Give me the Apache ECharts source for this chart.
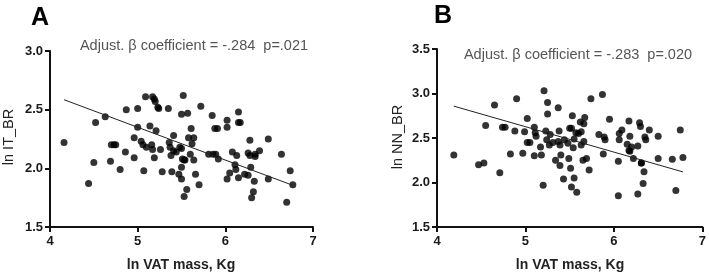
<!DOCTYPE html>
<html>
<head>
<meta charset="utf-8">
<script src="https://cdn.jsdelivr.net/npm/echarts@6/dist/echarts.min.js"></script>
<style>html,body{margin:0;padding:0;background:#fff}#c{width:709px;height:275px}</style>
</head>
<body>
<div id="c"></div>
<script>
// Panel A: ln VAT mass vs ln IT_BR
var xA = [4.16,4.44,4.50,4.52,4.63,4.69,4.70,4.73,4.75,4.80,4.86,4.87,4.96,4.96,5.00,5.00,5.04,5.06,5.07,5.09,5.10,5.14,5.16,5.17,5.19,5.20,5.17,5.19,5.21,5.23,5.24,5.26,5.28,5.35,5.36,5.37,5.38,5.39,5.41,5.41,5.44,5.47,5.48,5.50,5.50,5.50,5.50,5.52,5.51,5.53,5.53,5.54,5.56,5.57,5.58,5.60,5.61,5.62,5.64,5.64,5.66,5.70,5.72,5.81,5.85,5.86,5.89,5.88,5.91,5.92,6.02,6.02,6.02,6.05,6.08,6.11,6.12,6.13,6.15,6.15,6.17,6.15,6.22,6.26,6.28,6.26,6.28,6.29,6.30,6.32,6.33,6.34,6.34,6.39,6.49,6.49,6.64,6.70,6.74,6.77];
var yA = [2.22,1.87,2.05,2.39,2.44,2.06,2.20,2.20,2.20,1.99,2.14,2.50,2.09,2.26,2.51,2.35,2.23,2.20,1.98,2.61,2.18,2.36,2.20,2.61,2.59,2.57,2.16,2.09,2.32,2.52,2.51,2.16,1.97,2.51,2.22,2.18,2.11,1.97,2.28,2.15,2.14,1.95,2.18,2.17,2.01,2.46,1.91,2.62,2.08,2.07,1.76,2.07,1.82,2.47,2.26,2.12,2.34,2.21,2.26,2.07,1.95,1.86,2.53,2.12,2.45,2.12,2.12,2.34,2.34,2.08,2.41,2.35,1.91,1.96,2.14,2.03,1.99,2.11,2.48,2.39,2.39,1.92,1.95,1.94,2.24,2.13,2.11,2.01,1.75,1.80,1.89,2.12,2.10,2.15,2.25,1.91,2.12,1.71,1.98,1.86];
var lineAX = [4.16, 6.77];
var lineAY = [2.585, 1.855];

// Panel B: ln VAT mass vs ln NN_BR
var xB = [4.19,4.47,4.53,4.55,4.65,4.71,4.74,4.77,4.83,4.88,4.90,4.97,4.99,5.02,5.02,5.05,5.10,5.11,5.10,5.12,5.17,5.18,5.20,5.21,5.23,5.24,5.25,5.25,5.27,5.28,5.31,5.34,5.37,5.37,5.38,5.39,5.39,5.40,5.43,5.44,5.48,5.49,5.50,5.52,5.51,5.52,5.53,5.54,5.55,5.55,5.57,5.58,5.60,5.62,5.63,5.63,5.65,5.66,5.66,5.67,5.69,5.72,5.74,5.83,5.87,5.88,5.89,5.90,5.95,6.05,6.05,6.06,6.06,6.09,6.15,6.17,6.17,6.18,6.20,6.18,6.22,6.27,6.27,6.29,6.30,6.31,6.31,6.33,6.34,6.35,6.36,6.40,6.50,6.50,6.66,6.70,6.75,6.78];
var yB = [2.31,2.20,2.22,2.64,2.87,2.11,2.62,2.62,2.32,2.58,2.94,2.33,2.57,2.72,2.45,2.45,2.62,2.56,2.30,2.52,2.40,2.31,1.97,3.03,2.58,2.48,2.90,2.77,2.42,2.54,2.45,2.25,2.84,2.46,2.58,2.42,2.19,2.31,2.04,2.48,2.44,2.27,2.61,2.61,2.16,1.95,2.75,2.39,2.05,2.49,2.56,1.89,2.55,2.68,2.42,2.57,2.25,2.46,2.66,2.73,2.27,2.14,2.94,2.54,2.99,2.32,2.51,2.48,2.71,2.24,1.85,2.48,2.55,2.59,2.43,2.36,2.69,2.52,2.40,2.35,2.27,1.87,2.41,2.67,2.63,2.22,2.22,1.99,2.12,2.51,2.48,2.59,2.52,2.27,2.26,1.91,2.59,2.28];
var lineBX = [4.19, 6.78];
var lineBY = [2.858, 2.119];

var xTicks = [4, 5, 6, 7];
var labels = {
  letterA: 'A', letterB: 'B',
  annA: 'Adjust. \u03b2 coefficient = -.284  p=.021',
  annB: 'Adjust. \u03b2 coefficient = -.283  p=.020',
  xName: 'ln VAT mass, Kg',
  yNameA: 'ln IT_BR', yNameB: 'ln NN_BR'
};

var FONT = 'Liberation Sans, Arial, sans-serif';
function pairs(xs, ys){ return xs.map(function(x,i){ return [x, ys[i]]; }); }

function xAxisCfg(idx){
  return {
    gridIndex: idx, type: 'value', min: xTicks[0], max: xTicks[xTicks.length-1], interval: 1,
    axisLine: {show: true, onZero: false, lineStyle: {color: '#111', width: 2}},
    axisTick: {show: true, inside: false, length: 5, lineStyle: {color: '#111', width: 2}},
    axisLabel: {color: '#1a1a1a', fontSize: 13, fontWeight: 'bold', fontFamily: FONT, margin: 8},
    splitLine: {show: false}
  };
}
function yAxisCfg(idx, max){
  return {
    gridIndex: idx, type: 'value', min: 1.5, max: max, interval: 0.5,
    axisLine: {show: true, onZero: false, lineStyle: {color: '#111', width: 2}},
    axisTick: {show: true, inside: false, length: 5, lineStyle: {color: '#111', width: 2}},
    axisLabel: {color: '#1a1a1a', fontSize: 13, fontWeight: 'bold', fontFamily: FONT, margin: 7,
      formatter: function(v){ return v.toFixed(1); }},
    splitLine: {show: false}
  };
}

var chart = echarts.init(document.getElementById('c'), null, {renderer: 'canvas'});
chart.setOption({
  animation: false,
  backgroundColor: '#fff',
  grid: [
    {left: 50, top: 51, width: 263, height: 176},
    {left: 437, top: 49, width: 267, height: 178}
  ],
  xAxis: [xAxisCfg(0), xAxisCfg(1)],
  yAxis: [yAxisCfg(0, 3.0), yAxisCfg(1, 3.5)],
  series: [
    {type: 'scatter', xAxisIndex: 0, yAxisIndex: 0, data: pairs(xA, yA), symbolSize: 7,
      itemStyle: {color: '#000'}},
    {type: 'line', xAxisIndex: 0, yAxisIndex: 0, data: pairs(lineAX, lineAY), symbol: 'none',
      lineStyle: {color: '#222', width: 1}},
    {type: 'scatter', xAxisIndex: 1, yAxisIndex: 1, data: pairs(xB, yB), symbolSize: 7,
      itemStyle: {color: '#000'}},
    {type: 'line', xAxisIndex: 1, yAxisIndex: 1, data: pairs(lineBX, lineBY), symbol: 'none',
      lineStyle: {color: '#222', width: 1}}
  ],
  graphic: [
    {type: 'text', left: 31, top: 6, style: {text: labels.letterA, font: 'bold 25px ' + FONT, fill: '#000'}},
    {type: 'text', left: 434, top: 4, style: {text: labels.letterB, font: 'bold 25px ' + FONT, fill: '#000'}},
    {type: 'text', x: 194, y: 46, style: {text: labels.annA, font: '14.5px ' + FONT, fill: '#555', align: 'center', verticalAlign: 'middle'}},
    {type: 'text', x: 578, y: 55, style: {text: labels.annB, font: '14.5px ' + FONT, fill: '#555', align: 'center', verticalAlign: 'middle'}},
    {type: 'text', x: 181, y: 265, style: {text: labels.xName, font: 'bold 14px ' + FONT, fill: '#222', align: 'center', verticalAlign: 'middle'}},
    {type: 'text', x: 570, y: 265, style: {text: labels.xName, font: 'bold 14px ' + FONT, fill: '#222', align: 'center', verticalAlign: 'middle'}},
    {type: 'text', x: 9, y: 137, rotation: Math.PI/2, style: {text: labels.yNameA, font: '14.5px ' + FONT, fill: '#222', align: 'center', verticalAlign: 'middle'}},
    {type: 'text', x: 398, y: 137, rotation: Math.PI/2, style: {text: labels.yNameB, font: '14.5px ' + FONT, fill: '#222', align: 'center', verticalAlign: 'middle'}}
  ]
});
</script>
</body>
</html>
